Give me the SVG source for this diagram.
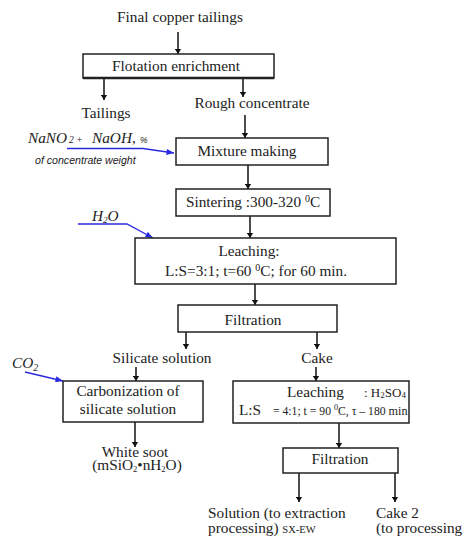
<svg xmlns="http://www.w3.org/2000/svg" width="471" height="537" viewBox="0 0 471 537">
<style>
text{font-family:"Liberation Serif","Times New Roman",serif;font-size:15.3px;fill:#222}
.c{text-anchor:middle}
.box{fill:#fff;stroke:#222;stroke-width:1.5}
.ln{stroke:#111;stroke-width:1.5;fill:none}
.bl{stroke:#2a2ae0;stroke-width:1.3;fill:none}
.it{font-style:italic}
.sm{font-family:"Liberation Sans",Arial,sans-serif;font-style:italic;font-size:10.6px}
.sup{font-size:10px}
</style>
<defs>
<marker id="ah" viewBox="0 0 8 10" refX="8" refY="5" markerWidth="5" markerHeight="7" orient="auto" markerUnits="userSpaceOnUse">
<path d="M0,0 L8,5 L0,10 Z" fill="#111"/>
</marker>
<marker id="bh" viewBox="0 0 10 8" refX="10" refY="4" markerWidth="10" markerHeight="6" orient="auto" markerUnits="userSpaceOnUse">
<path d="M0,0 L10,4 L0,8 Z" fill="#2a2ae0"/>
</marker>
</defs>
<g id="connectors">
<line class="ln" x1="178" y1="32" x2="178" y2="54" marker-end="url(#ah)"/>
<line class="ln" x1="104" y1="79" x2="104" y2="100" marker-end="url(#ah)"/>
<line class="ln" x1="243" y1="79" x2="243" y2="97" marker-end="url(#ah)"/>
<line class="ln" x1="245" y1="115" x2="245" y2="138" marker-end="url(#ah)"/>
<line class="ln" x1="248" y1="165" x2="248" y2="189" marker-end="url(#ah)"/>
<line class="ln" x1="250" y1="216" x2="250" y2="238" marker-end="url(#ah)"/>
<line class="ln" x1="255" y1="284" x2="255" y2="305" marker-end="url(#ah)"/>
<line class="ln" x1="186" y1="332" x2="186" y2="349" marker-end="url(#ah)"/>
<line class="ln" x1="317" y1="332" x2="317" y2="349" marker-end="url(#ah)"/>
<line class="ln" x1="136" y1="367" x2="136" y2="381" marker-end="url(#ah)"/>
<line class="ln" x1="316" y1="367" x2="316" y2="381" marker-end="url(#ah)"/>
<line class="ln" x1="135" y1="422" x2="135" y2="447" marker-end="url(#ah)"/>
<line class="ln" x1="339" y1="423" x2="339" y2="448" marker-end="url(#ah)"/>
<line class="ln" x1="299" y1="473" x2="299" y2="502" marker-end="url(#ah)"/>
<line class="ln" x1="395" y1="473" x2="395" y2="502" marker-end="url(#ah)"/>
<polyline class="bl" points="67,148.5 143,148.5 174,153" marker-end="url(#bh)"/>
<polyline class="bl" points="78,224 127,224 153,238" marker-end="url(#bh)"/>
<line class="bl" x1="25" y1="372" x2="63" y2="381" marker-end="url(#bh)"/>
</g>
<g id="n-input"><text class="c" x="180" y="22">Final copper tailings</text></g>
<g id="n-flotation">
<rect class="box" x="83" y="54" width="191" height="24"/>
<line x1="83" y1="78" x2="274" y2="78" stroke="#222" stroke-width="2.5"/>
<text class="c" x="176" y="71">Flotation enrichment</text>
</g>
<g id="n-tailings"><text class="c" x="106" y="118">Tailings</text></g>
<g id="n-rough"><text class="c" x="252" y="108">Rough concentrate</text></g>
<g id="n-reagent">
<text class="it" x="28" y="143">NaNO<tspan x="69" font-size="9.5">2 +</tspan><tspan x="92">NaOH,</tspan><tspan x="140" font-family="Liberation Sans,sans-serif" font-size="8.5">%</tspan></text>
<text class="sm" x="35" y="164">of concentrate weight</text>
</g>
<g id="n-mixture">
<rect class="box" x="176" y="138" width="152" height="27"/>
<text class="c" x="247" y="156">Mixture making</text>
</g>
<g id="n-sintering">
<rect class="box" x="176" y="189" width="154" height="27"/>
<text class="c" x="253" y="207">Sintering  :300-320 <tspan class="sup" dy="-5">0</tspan><tspan dy="5">C</tspan></text>
</g>
<g id="n-h2o"><text class="it" x="92" y="221">H<tspan font-size="9" dy="2">2</tspan><tspan dy="-2">O</tspan></text></g>
<g id="n-leaching1">
<rect class="box" x="135" y="238" width="261" height="46"/>
<text class="c" x="249" y="256">Leaching:</text>
<text class="c" x="256" y="276">L:S=3:1; t=60  <tspan class="sup" dy="-5">0</tspan><tspan dy="5">C; for 60 min.</tspan></text>
</g>
<g id="n-filtration1">
<rect class="box" x="178" y="305" width="159" height="27"/>
<text class="c" x="253" y="325">Filtration</text>
</g>
<g id="n-silicate"><text class="c" x="162" y="363">Silicate solution</text></g>
<g id="n-cake"><text class="c" x="317" y="363">Cake</text></g>
<g id="n-co2"><text class="it" x="12" y="368">CO<tspan font-size="10" dy="3">2</tspan></text></g>
<g id="n-carbonization">
<rect class="box" x="63" y="381" width="140" height="41"/>
<text class="c" x="128" y="396">Carbonization of</text>
<text class="c" x="128" y="414">silicate solution</text>
</g>
<g id="n-soot">
<text class="c" x="135" y="457" font-size="14.7">White soot</text>
<text class="c" x="137" y="470" font-size="12.8">(mSiO<tspan font-size="8.5" dy="2">2</tspan><tspan dy="-2">•nH</tspan><tspan font-size="8.5" dy="2">2</tspan><tspan dy="-2">O)</tspan></text>
</g>
<g id="n-leaching2">
<rect class="box" x="233" y="381" width="176" height="42"/>
<text x="287" y="397">Leaching<tspan x="364" font-size="13">: H<tspan font-size="9" dy="1">2</tspan><tspan dy="-1">SO</tspan><tspan font-size="9" dy="1">4</tspan></tspan></text>
<text x="239" y="415">L:S<tspan x="273" font-size="11.7">= 4:1; t = 90 </tspan><tspan font-size="8.3" dy="-5">0</tspan><tspan font-size="11.7" dy="5">C, τ – 180 </tspan><tspan font-size="12.2">min</tspan></text>
</g>
<g id="n-filtration2">
<rect class="box" x="283" y="448" width="115" height="25"/>
<text class="c" x="340" y="464">Filtration</text>
</g>
<g id="n-solution">
<text x="208" y="518">Solution (to extraction</text>
<text x="208" y="533">processing)  <tspan font-size="10.5">SX-EW</tspan></text>
</g>
<g id="n-cake2">
<text x="376" y="518">Cake 2</text>
<text x="376" y="533">(to processing</text>
</g>
</svg>
